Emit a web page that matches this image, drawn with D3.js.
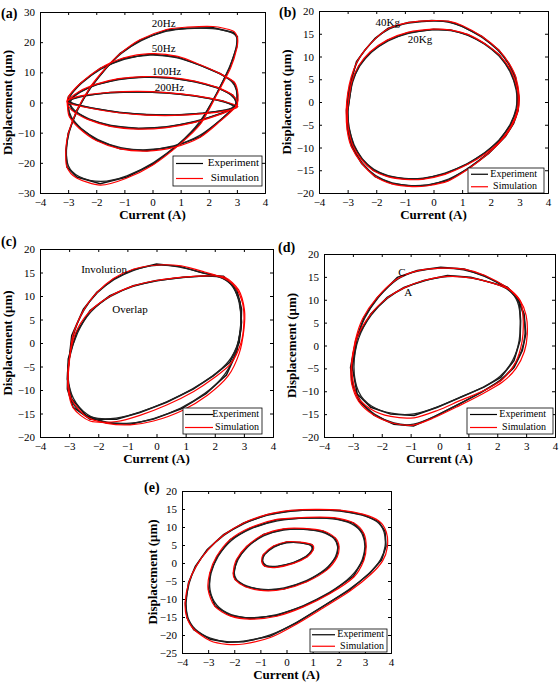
<!DOCTYPE html>
<html><head><meta charset="utf-8">
<script src="https://cdn.jsdelivr.net/npm/d3@7"></script>
<style>body{margin:0;background:#fff}svg{display:block}text{font-family:"Liberation Serif","Times New Roman",serif}</style>
</head><body><svg id="c" width="559" height="685"></svg>
<script>
// ---------- DATA ----------
const xTicks = [-4,-3,-2,-1,0,1,2,3,4];
const yTicksA = [-30,-20,-10,0,10,20,30];
const yTicks20 = [-20,-15,-10,-5,0,5,10,15,20];
const yTicksE = [-25,-20,-15,-10,-5,0,5,10,15,20];
const legendNames = ["Experiment","Simulation"];
const panelTags = ["(a)","(b)","(c)","(d)","(e)"];
const xLabel = "Current (A)";
const yLabel = "Displacement (\u03bcm)";

// (a) frequency loops
const a20Exp = [[-3.0,-10.3],[-2.69,-2.5],[-2.2,5.2],[-1.62,11.8],[-1.15,16.3],[-0.44,20.7],[0.51,24.0],[1.22,24.6],[2.17,24.8],[2.88,23.2],[3.02,21.8],[3.0,18.5],[2.76,11.8],[2.29,3.0],[1.69,-7.0],[0.98,-13.6],[0.04,-20.3],[-0.91,-24.7],[-1.86,-26.9],[-2.69,-24.7],[-3.04,-21.4],[-3.08,-15.8]];
const a20Sim = [[-3.0,-10.5],[-2.7,-2.8],[-2.22,5.0],[-1.65,11.6],[-1.15,16.2],[-0.45,20.8],[0.5,24.2],[1.25,25.0],[2.15,25.2],[2.85,23.8],[3.02,21.5],[3.0,18.0],[2.78,11.5],[2.3,2.8],[1.7,-7.2],[0.98,-13.8],[0.0,-20.8],[-0.95,-25.2],[-1.85,-27.4],[-2.7,-25.0],[-3.05,-21.2],[-3.08,-15.5]];
const a50Exp = [[-2.99,1.9],[-2.57,6.3],[-1.86,11.3],[-1.03,14.6],[-0.08,16.1],[0.86,15.2],[1.69,12.4],[2.4,9.6],[2.88,6.9],[3.0,4.1],[3.02,0.8],[2.94,-1.4],[2.4,-6.0],[1.69,-11.4],[0.75,-14.7],[-0.2,-16.0],[-1.15,-15.3],[-1.98,-12.5],[-2.57,-8.6],[-2.93,-4.8],[-3.01,-1.4]];
const a50Sim = [[-3.0,1.7],[-2.58,6.2],[-1.88,11.2],[-1.05,14.7],[-0.05,16.2],[0.9,15.3],[1.7,12.5],[2.42,9.5],[2.9,6.8],[3.02,4.0],[3.04,0.7],[2.95,-1.5],[2.42,-6.1],[1.7,-11.5],[0.75,-14.9],[-0.2,-16.1],[-1.15,-15.4],[-2.0,-12.6],[-2.6,-8.6],[-2.95,-4.8],[-3.02,-1.5]];
const a100Exp = [[-3.0,0.5],[-2.6,3.5],[-2.0,6.0],[-1.2,7.8],[-0.3,8.5],[0.6,8.2],[1.5,7.0],[2.3,5.0],[2.85,2.5],[3.0,0.0],[2.95,-1.5],[2.5,-3.5],[1.5,-6.5],[0.5,-8.2],[-0.5,-8.7],[-1.5,-7.8],[-2.3,-5.5],[-2.85,-2.5]];
const a100Sim = [[-3.02,0.4],[-2.62,3.6],[-2.0,6.1],[-1.2,7.9],[-0.3,8.6],[0.6,8.3],[1.5,7.1],[2.3,5.0],[2.86,2.4],[3.02,-0.1],[2.96,-1.6],[2.5,-3.6],[1.5,-6.6],[0.5,-8.3],[-0.5,-8.8],[-1.5,-7.9],[-2.3,-5.6],[-2.86,-2.6]];
const a200Exp = [[-3.0,0.8],[-2.5,2.2],[-1.5,3.3],[-0.5,3.6],[0.5,3.2],[1.5,2.2],[2.5,0.5],[3.0,-1.3],[2.7,-2.5],[1.8,-3.6],[0.8,-4.2],[-0.2,-4.1],[-1.2,-3.3],[-2.2,-1.8],[-2.9,-0.3]];
const a200Sim = [[-3.02,0.7],[-2.5,2.3],[-1.5,3.4],[-0.5,3.7],[0.5,3.3],[1.5,2.3],[2.5,0.5],[3.02,-1.3],[2.7,-2.6],[1.8,-3.7],[0.8,-4.3],[-0.2,-4.2],[-1.2,-3.4],[-2.2,-1.9],[-2.92,-0.4]];
const aNotes = [["20Hz",0.4,26],["50Hz",0.4,17.7],["100Hz",0.5,9.8],["200Hz",0.6,4.8]];

// (b) load loops
const b40Exp = [[-2.98,1.9],[-2.84,5.6],[-2.69,8.9],[-2.4,11.4],[-2.04,14.0],[-1.58,16.2],[-0.88,17.5],[-0.06,17.9],[0.53,17.7],[0.99,16.7],[1.69,14.4],[2.28,11.4],[2.63,8.5],[2.86,5.6],[2.98,1.2],[2.96,-1.8],[2.8,-4.7],[2.51,-7.6],[1.93,-11.3],[1.23,-14.6],[0.53,-17.2],[-0.18,-18.3],[-0.76,-18.5],[-1.46,-17.9],[-2.04,-16.4],[-2.51,-13.5],[-2.86,-9.8],[-3.0,-6.2],[-3.04,-1.8]];
const b40Sim = [[-3.0,1.8],[-2.88,5.4],[-2.68,8.7],[-2.38,11.5],[-2.0,14.1],[-1.55,16.2],[-0.85,17.5],[-0.05,17.9],[0.55,17.7],[1.0,16.8],[1.7,14.4],[2.3,11.3],[2.65,8.4],[2.88,5.4],[3.0,1.0],[2.95,-2.0],[2.78,-4.8],[2.48,-7.7],[1.9,-11.4],[1.2,-14.8],[0.5,-17.4],[-0.2,-18.4],[-0.75,-18.6],[-1.45,-18.0],[-2.05,-16.3],[-2.52,-13.4],[-2.88,-9.7],[-3.02,-6.0],[-3.05,-1.9]];
const b20Exp = [[-2.95,0.0],[-2.85,4.5],[-2.6,8.0],[-2.2,11.0],[-1.6,13.6],[-0.9,15.2],[0.0,16.0],[0.6,15.8],[1.2,14.8],[1.8,12.8],[2.3,10.3],[2.7,6.8],[2.93,2.5],[2.92,-1.5],[2.7,-5.0],[2.3,-8.5],[1.8,-11.2],[1.2,-13.6],[0.4,-15.8],[-0.4,-16.9],[-1.0,-16.9],[-1.6,-16.3],[-2.1,-15.0],[-2.5,-12.6],[-2.8,-9.5],[-2.97,-5.5],[-3.0,-2.0]];
const b20Sim = [[-2.97,0.0],[-2.86,4.4],[-2.62,7.9],[-2.22,11.0],[-1.62,13.6],[-0.9,15.3],[0.0,16.0],[0.62,15.8],[1.22,14.8],[1.82,12.7],[2.32,10.2],[2.72,6.7],[2.94,2.4],[2.93,-1.6],[2.72,-5.1],[2.32,-8.6],[1.82,-11.3],[1.2,-13.7],[0.4,-15.9],[-0.4,-17.0],[-1.0,-17.0],[-1.6,-16.4],[-2.12,-15.0],[-2.52,-12.6],[-2.82,-9.5],[-2.98,-5.5],[-3.01,-2.0]];
const bNotes = [["40Kg",-1.6,17.3],["20Kg",-0.47,13.6]];

// (c) involution / overlap loops
const cInvExp = [[-3.06,-9.8],[-3.05,-6.2],[-2.91,1.6],[-2.51,7.2],[-2.05,10.8],[-1.48,13.6],[-0.8,15.6],[0.0,16.8],[0.8,16.3],[1.6,14.9],[2.3,14.0],[2.64,12.2],[2.87,8.7],[2.92,4.4],[2.84,0.1],[2.52,-4.1],[1.95,-7.0],[1.26,-9.8],[0.35,-12.6],[-0.57,-14.8],[-1.37,-16.2],[-2.28,-16.2],[-2.86,-13.7]];
const cInvSim = [[-3.04,-9.6],[-3.02,-6.0],[-2.88,1.4],[-2.5,7.0],[-2.05,10.7],[-1.48,13.7],[-0.8,15.7],[0.05,16.6],[0.85,16.4],[1.65,15.1],[2.35,13.7],[2.72,11.8],[2.96,8.3],[3.0,4.2],[2.9,0.0],[2.55,-4.4],[1.98,-7.4],[1.28,-10.3],[0.35,-13.2],[-0.57,-15.4],[-1.37,-16.7],[-2.28,-16.6],[-2.86,-13.8]];
const cOvlExp = [[-3.06,-7.7],[-3.03,-3.4],[-2.74,2.3],[-2.28,6.9],[-1.6,10.1],[-0.8,12.2],[0.0,13.3],[0.92,14.0],[1.72,14.3],[2.3,14.2],[2.75,11.5],[2.92,7.2],[2.9,3.0],[2.75,-2.0],[2.4,-6.8],[1.7,-10.8],[0.85,-14.0],[-0.1,-16.2],[-0.91,-17.3],[-1.71,-17.0],[-2.4,-15.6],[-2.91,-11.9]];
const cOvlSim = [[-3.04,-7.6],[-3.0,-3.6],[-2.8,1.8],[-2.34,6.4],[-1.64,9.8],[-0.82,12.1],[0.0,13.3],[0.92,14.0],[1.72,14.3],[2.35,14.0],[2.82,11.3],[3.02,7.0],[3.0,2.8],[2.84,-2.2],[2.46,-7.0],[1.75,-11.1],[0.87,-14.4],[-0.1,-16.6],[-0.9,-17.4],[-1.7,-17.1],[-2.4,-15.7],[-2.92,-11.9]];
const cNotes = [["Involution",-1.8,15.5],["Overlap",-0.91,6.9]];

// (d) C / A loops
const dCExp = [[-3.08,-4.8],[-2.9,1.1],[-2.61,6.2],[-2.15,10.5],[-1.46,14.9],[-0.77,16.4],[0.04,17.1],[0.85,16.7],[1.54,15.3],[2.35,12.7],[2.7,10.5],[2.93,6.9],[2.99,2.5],[2.87,-1.1],[2.58,-4.8],[2.12,-7.7],[1.43,-10.3],[0.62,-13.0],[-0.19,-15.6],[-0.9,-17.6],[-1.58,-17.2],[-2.27,-15.2],[-2.79,-12.1],[-3.02,-8.4]];
const dCSim = [[-3.06,-4.8],[-2.92,1.0],[-2.66,5.9],[-2.2,10.2],[-1.5,14.4],[-0.77,16.3],[0.04,16.9],[0.85,16.7],[1.58,15.3],[2.38,12.5],[2.78,10.0],[3.0,6.6],[3.04,2.4],[2.94,-1.3],[2.65,-5.0],[2.18,-8.0],[1.48,-10.6],[0.64,-13.3],[-0.19,-15.8],[-0.9,-17.4],[-1.6,-17.0],[-2.28,-15.2],[-2.8,-12.2],[-3.04,-8.4]];
const dAExp = [[-3.02,-4.8],[-2.85,1.8],[-2.38,6.9],[-1.81,10.5],[-1.23,12.7],[-0.54,14.2],[0.27,15.3],[1.08,14.9],[1.77,13.8],[2.35,12.7],[2.76,9.8],[2.81,5.4],[2.79,1.1],[2.58,-3.3],[2.12,-7.0],[1.54,-9.1],[0.73,-11.3],[-0.07,-13.5],[-0.88,-15.3],[-1.69,-15.0],[-2.38,-13.5],[-2.85,-10.6]];
const dASim = [[-3.04,-4.8],[-2.86,1.6],[-2.4,6.7],[-1.83,10.3],[-1.23,12.6],[-0.54,14.2],[0.27,15.1],[1.08,14.8],[1.8,13.7],[2.4,12.3],[2.82,9.4],[2.9,5.2],[2.86,0.9],[2.64,-3.6],[2.18,-7.4],[1.56,-9.8],[0.73,-12.0],[-0.07,-14.2],[-0.88,-15.8],[-1.69,-15.5],[-2.4,-13.8],[-2.88,-10.7]];
const dNotes = [["C",-1.3,15.7],["A",-1.08,11.4]];

// (e) amplitude loops
const e1Exp = [[-3.87,-11.1],[-3.75,-5.5],[-3.49,-0.9],[-3.04,3.7],[-2.41,7.9],[-1.64,11.1],[-0.75,13.4],[0.14,14.5],[1.1,14.8],[2.05,14.6],[2.94,13.4],[3.52,11.6],[3.77,8.8],[3.81,4.6],[3.64,0.9],[3.2,-2.8],[2.43,-7.4],[1.41,-12.0],[0.39,-16.6],[-0.62,-20.3],[-1.64,-21.9],[-2.28,-22.0],[-2.92,-21.2],[-3.55,-18.5],[-3.81,-15.2]];
const e1Sim = [[-3.88,-11.0],[-3.74,-5.4],[-3.45,-0.8],[-3.0,3.7],[-2.38,7.9],[-1.62,11.2],[-0.72,13.5],[0.15,14.6],[1.1,14.9],[2.05,14.7],[2.95,13.5],[3.55,11.6],[3.82,8.6],[3.86,4.4],[3.68,0.6],[3.22,-3.2],[2.43,-7.8],[1.4,-12.5],[0.38,-17.0],[-0.62,-20.7],[-1.64,-22.5],[-2.28,-22.6],[-2.92,-21.6],[-3.55,-18.4],[-3.82,-15.0]];
const e2Exp = [[-2.98,-7.4],[-2.92,-2.8],[-2.66,1.8],[-2.15,6.5],[-1.39,9.7],[-0.37,12.0],[0.78,12.6],[1.8,12.5],[2.56,11.1],[2.94,8.3],[3.03,4.6],[2.94,0.9],[2.56,-3.7],[1.67,-8.3],[0.65,-12.0],[-0.37,-14.6],[-1.39,-15.5],[-2.15,-14.6],[-2.73,-12.0]];
const e2Sim = [[-3.0,-7.4],[-2.94,-2.8],[-2.68,1.8],[-2.16,6.5],[-1.4,9.8],[-0.37,12.1],[0.78,12.7],[1.8,12.6],[2.58,11.1],[2.96,8.2],[3.05,4.5],[2.96,0.7],[2.58,-3.9],[1.67,-8.5],[0.65,-12.2],[-0.37,-14.8],[-1.39,-15.6],[-2.16,-14.7],[-2.75,-12.0]];
const e3Exp = [[-2.03,-2.8],[-1.9,0.9],[-1.52,4.6],[-0.88,7.9],[-0.11,9.4],[0.65,9.5],[1.41,8.8],[1.86,6.9],[1.99,4.6],[1.92,1.8],[1.54,-1.8],[0.78,-5.1],[-0.11,-7.2],[-0.88,-7.6],[-1.58,-6.5],[-1.96,-4.6]];
const e3Sim = [[-2.04,-2.8],[-1.92,0.9],[-1.53,4.6],[-0.88,7.9],[-0.11,9.5],[0.65,9.6],[1.41,8.9],[1.88,6.9],[2.01,4.6],[1.94,1.7],[1.55,-1.9],[0.78,-5.2],[-0.11,-7.3],[-0.88,-7.7],[-1.58,-6.6],[-1.97,-4.6]];
const e4Exp = [[-0.94,0.5],[-0.88,2.3],[-0.5,4.6],[0.01,5.8],[0.52,5.7],[0.97,5.1],[1.01,3.7],[0.78,1.8],[0.27,0.0],[-0.37,-1.1],[-0.82,-0.9]];
const e4Sim = [[-0.95,0.5],[-0.89,2.3],[-0.5,4.7],[0.01,5.9],[0.52,5.8],[0.98,5.1],[1.02,3.6],[0.79,1.7],[0.27,-0.1],[-0.37,-1.2],[-0.83,-0.9]];

// ---------- LAYOUT ----------
const panels = [
  {tag:panelTags[0], box:[40,12,265,193], yDom:[-30,30], yTicks:yTicksA, tagPos:[1,18], yl:31,
   exp:[a20Exp,a50Exp,a100Exp,a200Exp], sim:[a20Sim,a50Sim,a100Sim,a200Sim], notes:aNotes,
   leg:{x0:173,y0:156,x1:262,y1:186,l0:176,l1:203,tx:259,fs:11}},
  {tag:panelTags[1], box:[319,11,548,193], yDom:[-20,20], yTicks:yTicks20, tagPos:[279,17], yl:31,
   exp:[b40Exp,b20Exp], sim:[b40Sim,b20Sim], notes:bNotes,
   leg:{x0:468,y0:168,x1:544,y1:193,l0:471,l1:488,tx:537,fs:10}},
  {tag:panelTags[2], box:[40,249,273,437], yDom:[-20,20], yTicks:yTicks20, tagPos:[1,246], yl:31,
   exp:[cInvExp,cOvlExp], sim:[cInvSim,cOvlSim], notes:cNotes,
   leg:{x0:183,y0:408,x1:262,y1:434,l0:185,l1:213,tx:259,fs:10}},
  {tag:panelTags[3], box:[324,254,555,437], yDom:[-20,20], yTicks:yTicks20, tagPos:[278,252], yl:31,
   exp:[dCExp,dAExp], sim:[dCSim,dASim], notes:dNotes,
   leg:{x0:467,y0:408,x1:553,y1:434,l0:470,l1:497,tx:546,fs:10}},
  {tag:panelTags[4], box:[182,491,391,653], yDom:[-25,20], yTicks:yTicksE, tagPos:[144,492], yl:28,
   exp:[e1Exp,e2Exp,e3Exp,e4Exp], sim:[e1Sim,e2Sim,e3Sim,e4Sim], notes:[],
   leg:{x0:310,y0:629,x1:387,y1:652,l0:312,l1:335,tx:384,fs:10}}
];

const svg = d3.select("#c");
panels.forEach(p => {
  const [x0,y0,x1,y1] = p.box;
  const x = d3.scaleLinear().domain([-4,4]).range([x0,x1]);
  const y = d3.scaleLinear().domain(p.yDom).range([y1,y0]);
  const g = svg.append("g");
  const clipId = "clip" + p.tag.replace(/\W/g,"");
  svg.append("clipPath").attr("id",clipId).append("rect").attr("x",x0).attr("y",y0).attr("width",x1-x0).attr("height",y1-y0);

  // axes (ticks inward)
  const tl = 3;
  g.append("g").attr("transform",`translate(0,${y1})`)
    .call(d3.axisBottom(x).tickValues(xTicks).tickSize(-tl).tickPadding(5).tickFormat(d3.format("d")));
  g.append("g").attr("transform",`translate(${x0},0)`)
    .call(d3.axisLeft(y).tickValues(p.yTicks).tickSize(-tl).tickPadding(5).tickFormat(d3.format("d")));
  g.append("g").attr("transform",`translate(0,${y0})`)
    .call(d3.axisTop(x).tickValues(xTicks).tickSize(-tl).tickFormat(""));
  g.append("g").attr("transform",`translate(${x1},0)`)
    .call(d3.axisRight(y).tickValues(p.yTicks).tickSize(-tl).tickFormat(""));
  g.selectAll(".domain").attr("stroke","#000").attr("stroke-width",1);
  g.selectAll(".tick line").attr("stroke","#000");
  g.selectAll(".tick text").attr("font-size",11).attr("fill","#000")
    .style("font-family","'Liberation Serif',serif");

  const plot = g.append("g").attr("clip-path",`url(#${clipId})`);
  const lineLin = d3.line().x(d=>x(d[0])).y(d=>y(d[1])).curve(d3.curveLinearClosed);
  const lineSmooth = d3.line().x(d=>x(d[0])).y(d=>y(d[1])).curve(d3.curveCardinalClosed.tension(0.2));
  const lineBasis = d3.line().x(d=>x(d[0])).y(d=>y(d[1])).curve(d3.curveBasisClosed);
  p.exp.forEach(loop => {
    plot.append("path").attr("d",lineLin(loop)).attr("fill","none").attr("stroke","#111").attr("stroke-width",1.5);
    plot.append("path").attr("d",lineBasis(loop)).attr("fill","none").attr("stroke","#222").attr("stroke-width",1.3);
  });
  p.sim.forEach(loop => {
    plot.append("path").attr("d",lineSmooth(loop)).attr("fill","none").attr("stroke","#ff0000").attr("stroke-width",1.2);
  });

  // annotations
  p.notes.forEach(n => {
    g.append("text").attr("x",x(n[1])).attr("y",y(n[2])).attr("text-anchor","middle")
      .attr("dominant-baseline","middle").attr("font-size",11).text(n[0]);
  });

  // legend
  const L = p.leg;
  g.append("rect").attr("x",L.x0).attr("y",L.y0).attr("width",L.x1-L.x0).attr("height",L.y1-L.y0)
    .attr("fill","#fff").attr("stroke","#000").attr("stroke-width",0.8);
  const rowH = (L.y1-L.y0)/2;
  legendNames.forEach((name,i) => {
    const cy = L.y0 + rowH*(i+0.5);
    g.append("line").attr("x1",L.l0).attr("x2",L.l1).attr("y1",cy).attr("y2",cy)
      .attr("stroke", i===0 ? "#000" : "#ff0000").attr("stroke-width",1.2);
    g.append("text").attr("x",L.tx).attr("y",cy).attr("text-anchor","end")
      .attr("dominant-baseline","middle").attr("font-size",L.fs).text(name);
  });

  // axis titles
  g.append("text").attr("x",(x0+x1)/2).attr("y",y1+26).attr("text-anchor","middle")
    .attr("font-size",13).attr("font-weight","bold").text(xLabel);
  g.append("text").attr("transform",`translate(${x0-p.yl},${(y0+y1)/2}) rotate(-90)`)
    .attr("text-anchor","middle").attr("dominant-baseline","middle")
    .attr("font-size",13).attr("font-weight","bold").text(yLabel);
  g.append("text").attr("x",p.tagPos[0]).attr("y",p.tagPos[1]).attr("font-size",14)
    .attr("font-weight","bold").text(p.tag);
});
</script></body></html>
